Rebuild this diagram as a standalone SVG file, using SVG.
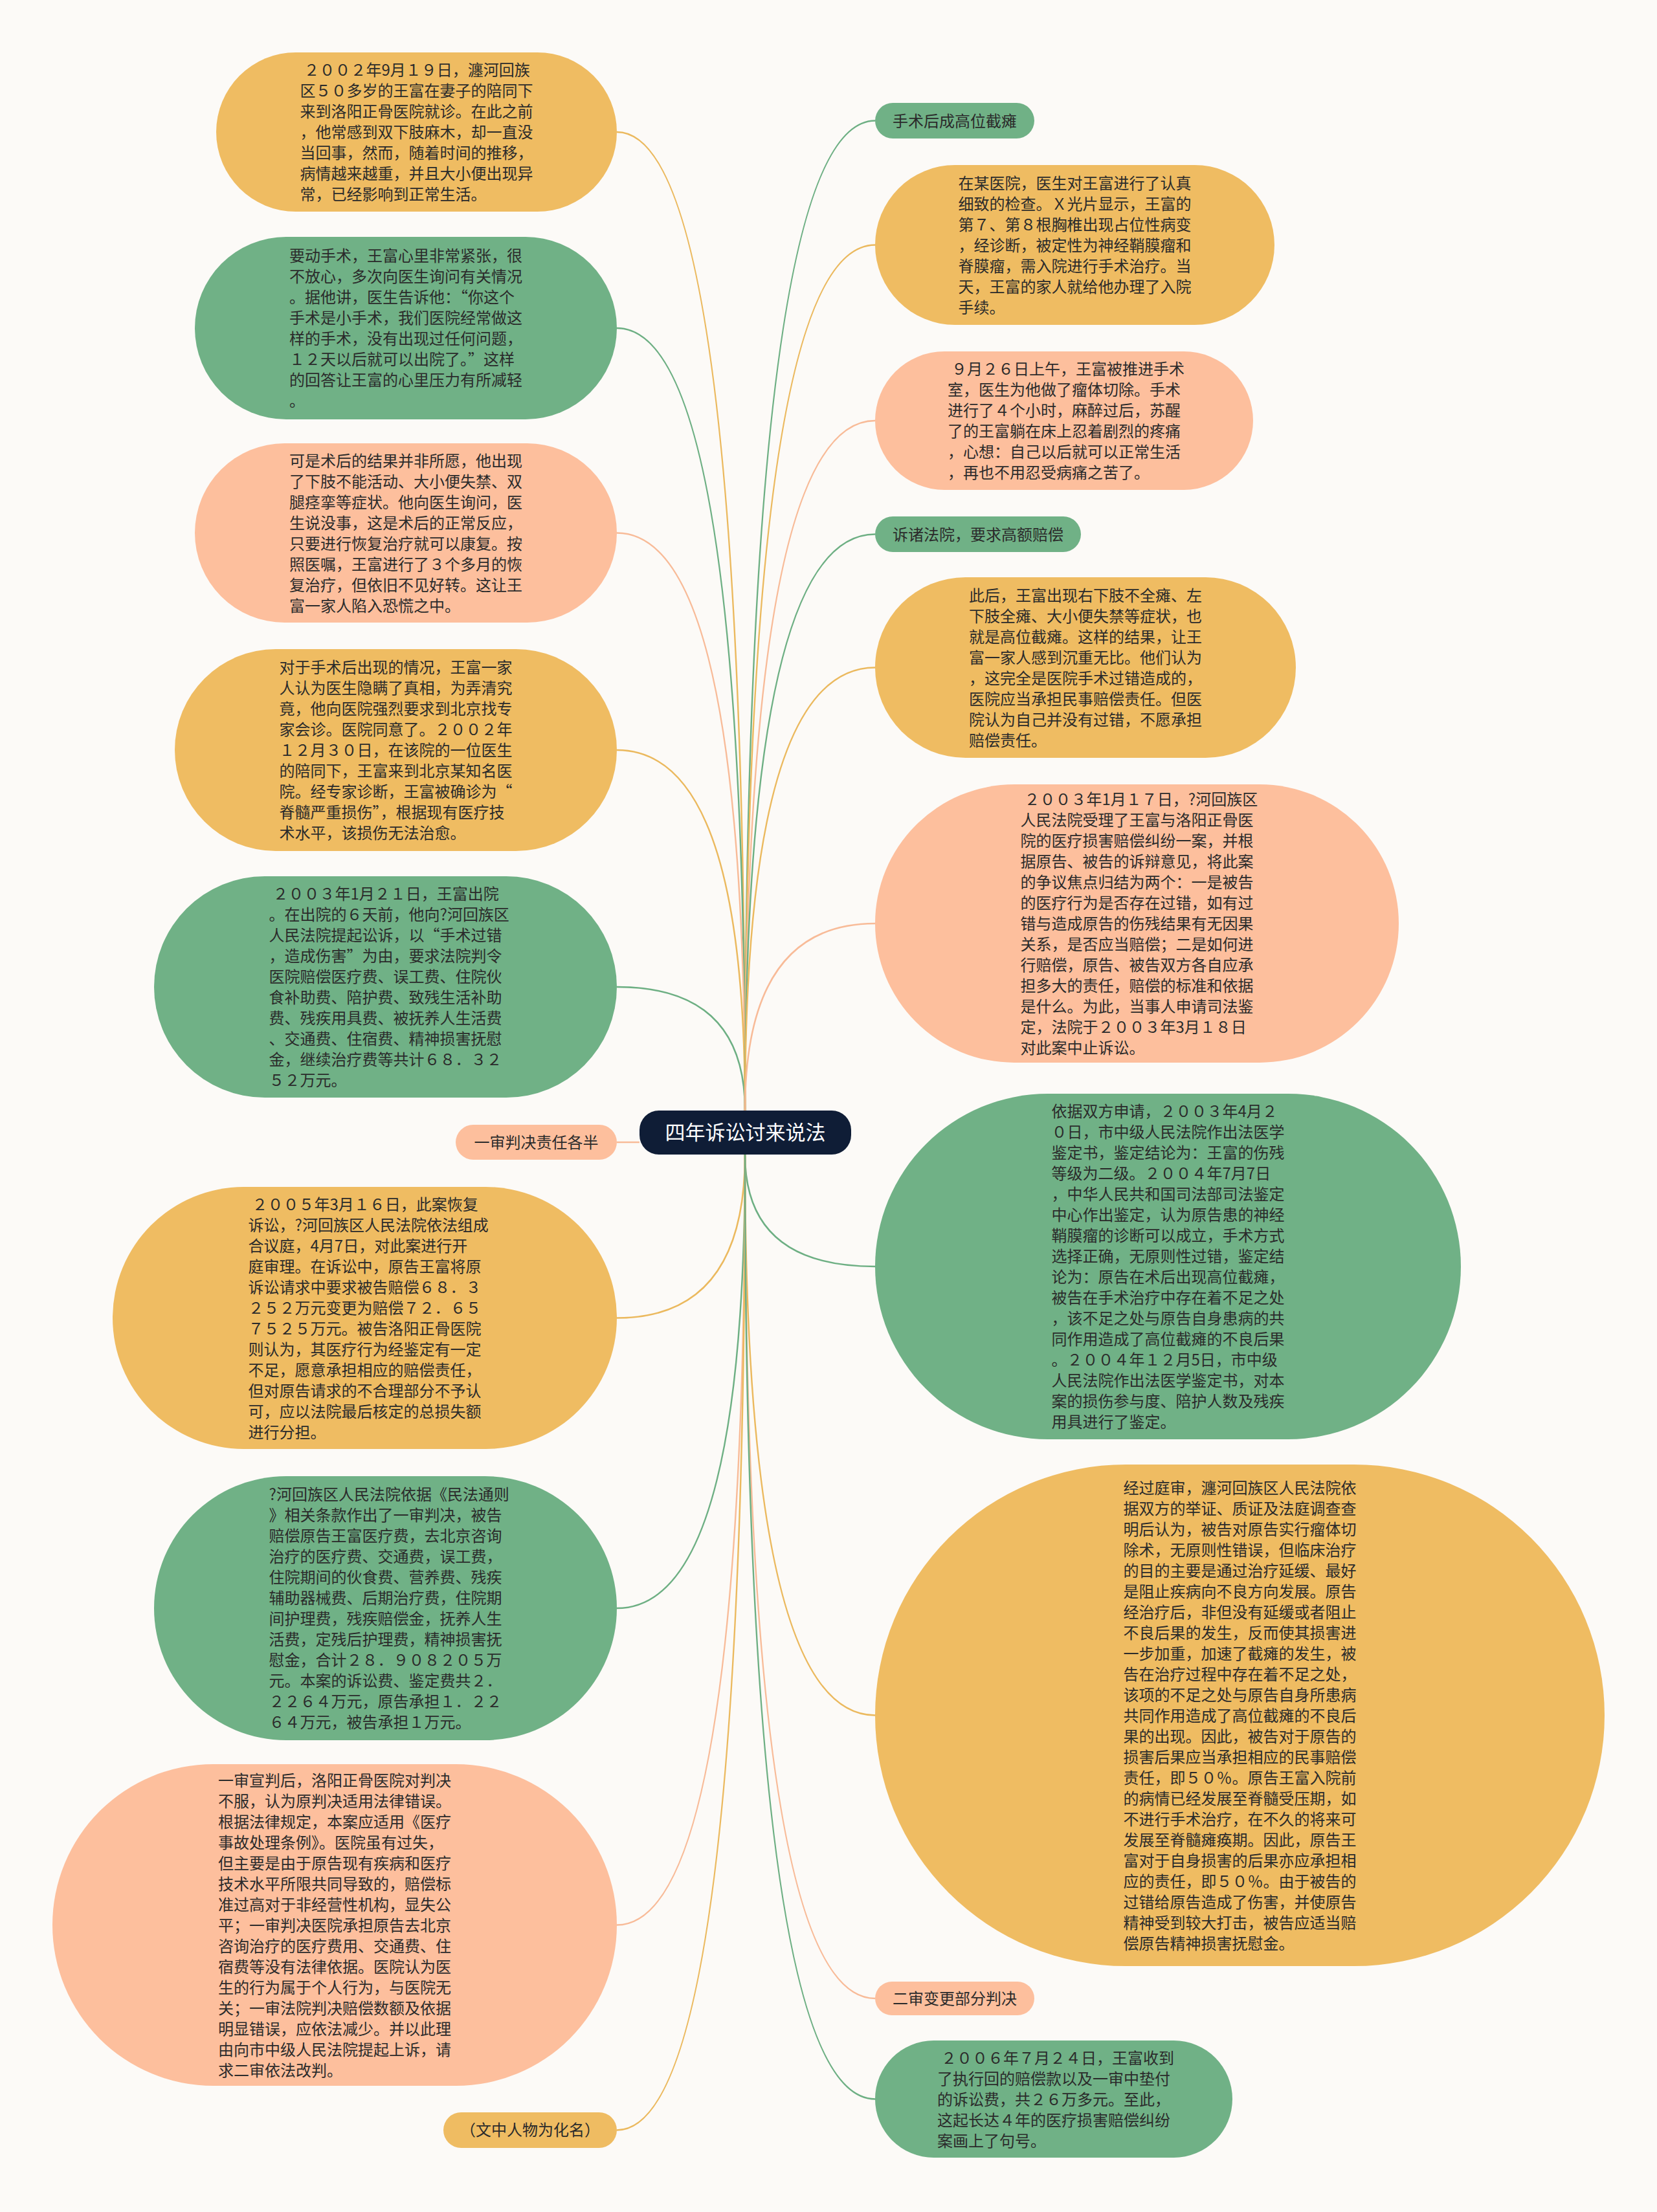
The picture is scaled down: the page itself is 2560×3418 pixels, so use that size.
<svg xmlns="http://www.w3.org/2000/svg" width="2560" height="3418" viewBox="0 0 2560 3418">
<style>
.bg{fill:#FCFAF7}
.y{fill:#EFBC62}
.g{fill:#70B186}
.s{fill:#FDBF9D}
.c{fill:#0F1D36}
.t{font-family:"Noto Sans CJK SC","Noto Sans",sans-serif;font-size:24px;fill:#2B2B2B}
.tl{font-family:"Noto Sans CJK SC","Noto Sans",sans-serif;font-size:24px;fill:#2B2B2B;text-anchor:middle}
.tc{font-family:"Noto Sans CJK SC","Noto Sans",sans-serif;font-size:31px;fill:#FFFFFF;text-anchor:middle}
.ln{fill:none;stroke-width:2.5}
.ly{stroke:#EBB95E}
.lg{stroke:#6DAF83}
.ls{stroke:#F8BB98}
</style>
<rect class="bg" x="0" y="0" width="2560" height="3418"/>
<g id="connectors">
<path class="ln ly" d="M1151 1716 Q1151 204 953 204"/>
<path class="ln lg" d="M1151 1716 Q1151 507 953 507"/>
<path class="ln ls" d="M1151 1716 Q1151 823.5 953 823.5"/>
<path class="ln ly" d="M1151 1716 Q1151 1159 953 1159"/>
<path class="ln lg" d="M1151 1716 Q1151 1525 953 1525"/>
<path class="ln ls" d="M988 1765 L953 1765"/>
<path class="ln ly" d="M1151 1784 Q1151 2036.5 953 2036.5"/>
<path class="ln lg" d="M1151 1784 Q1151 2485 953 2485"/>
<path class="ln ls" d="M1151 1784 Q1151 2974.5 953 2974.5"/>
<path class="ln ly" d="M1151 1784 Q1151 3291.5 953 3291.5"/>
<path class="ln lg" d="M1151 1716 Q1151 186.5 1352 186.5"/>
<path class="ln ly" d="M1151 1716 Q1151 378.5 1352 378.5"/>
<path class="ln ls" d="M1151 1716 Q1151 650 1352 650"/>
<path class="ln lg" d="M1151 1716 Q1151 825.5 1352 825.5"/>
<path class="ln ly" d="M1151 1716 Q1151 1031.5 1352 1031.5"/>
<path class="ln ls" d="M1151 1716 Q1151 1427 1352 1427"/>
<path class="ln lg" d="M1151 1784 Q1151 1957 1352 1957"/>
<path class="ln ly" d="M1151 1784 Q1151 2650.5 1352 2650.5"/>
<path class="ln ls" d="M1151 1784 Q1151 3088 1352 3088"/>
<path class="ln lg" d="M1151 1784 Q1151 3243.5 1352 3243.5"/>
</g>
<g id="center">
<rect class="c" x="988" y="1716" width="327" height="68" rx="30"/>
<text class="tc" x="1151.5" y="1761">四年诉讼讨来说法</text>
</g>
<g id="n-l1">
<rect class="y" x="334" y="81" width="619" height="246" rx="123"/>
<text class="t" x="463.5" y="117"><tspan x="469.5">２００２年9月１９日，瀍河回族</tspan><tspan x="463.5" dy="32">区５０多岁的王富在妻子的陪同下</tspan><tspan x="463.5" dy="32">来到洛阳正骨医院就诊。在此之前</tspan><tspan x="463.5" dy="32">，他常感到双下肢麻木，却一直没</tspan><tspan x="463.5" dy="32">当回事，然而，随着时间的推移，</tspan><tspan x="463.5" dy="32">病情越来越重，并且大小便出现异</tspan><tspan x="463.5" dy="32">常，已经影响到正常生活。</tspan></text>
</g>
<g id="n-l2">
<rect class="g" x="301" y="366" width="652" height="282" rx="141"/>
<text class="t" x="447" y="404"><tspan x="447">要动手术，王富心里非常紧张，很</tspan><tspan x="447" dy="32">不放心，多次向医生询问有关情况</tspan><tspan x="447" dy="32">。据他讲，医生告诉他：“你这个</tspan><tspan x="447" dy="32">手术是小手术，我们医院经常做这</tspan><tspan x="447" dy="32">样的手术，没有出现过任何问题，</tspan><tspan x="447" dy="32">１２天以后就可以出院了。”这样</tspan><tspan x="447" dy="32">的回答让王富的心里压力有所减轻</tspan><tspan x="447" dy="32">。</tspan></text>
</g>
<g id="n-l3">
<rect class="s" x="301" y="685" width="652" height="277" rx="138.5"/>
<text class="t" x="447" y="720.5"><tspan x="447">可是术后的结果并非所愿，他出现</tspan><tspan x="447" dy="32">了下肢不能活动、大小便失禁、双</tspan><tspan x="447" dy="32">腿痉挛等症状。他向医生询问，医</tspan><tspan x="447" dy="32">生说没事，这是术后的正常反应，</tspan><tspan x="447" dy="32">只要进行恢复治疗就可以康复。按</tspan><tspan x="447" dy="32">照医嘱，王富进行了３个多月的恢</tspan><tspan x="447" dy="32">复治疗，但依旧不见好转。这让王</tspan><tspan x="447" dy="32">富一家人陷入恐慌之中。</tspan></text>
</g>
<g id="n-l4">
<rect class="y" x="270" y="1003" width="683" height="312" rx="156"/>
<text class="t" x="431.5" y="1040"><tspan x="431.5">对于手术后出现的情况，王富一家</tspan><tspan x="431.5" dy="32">人认为医生隐瞒了真相，为弄清究</tspan><tspan x="431.5" dy="32">竟，他向医院强烈要求到北京找专</tspan><tspan x="431.5" dy="32">家会诊。医院同意了。２００２年</tspan><tspan x="431.5" dy="32">１２月３０日，在该院的一位医生</tspan><tspan x="431.5" dy="32">的陪同下，王富来到北京某知名医</tspan><tspan x="431.5" dy="32">院。经专家诊断，王富被确诊为“</tspan><tspan x="431.5" dy="32">脊髓严重损伤”，根据现有医疗技</tspan><tspan x="431.5" dy="32">术水平，该损伤无法治愈。</tspan></text>
</g>
<g id="n-l5">
<rect class="g" x="238" y="1354" width="715" height="342" rx="171"/>
<text class="t" x="415.5" y="1390"><tspan x="421.5">２００３年1月２１日，王富出院</tspan><tspan x="415.5" dy="32">。在出院的６天前，他向?河回族区</tspan><tspan x="415.5" dy="32">人民法院提起讼诉，以“手术过错</tspan><tspan x="415.5" dy="32">，造成伤害”为由，要求法院判令</tspan><tspan x="415.5" dy="32">医院赔偿医疗费、误工费、住院伙</tspan><tspan x="415.5" dy="32">食补助费、陪护费、致残生活补助</tspan><tspan x="415.5" dy="32">费、残疾用具费、被抚养人生活费</tspan><tspan x="415.5" dy="32">、交通费、住宿费、精神损害抚慰</tspan><tspan x="415.5" dy="32">金，继续治疗费等共计６８．３２</tspan><tspan x="415.5" dy="32">５２万元。</tspan></text>
</g>
<g id="n-yishen">
<rect class="s" x="704" y="1738" width="249" height="54" rx="27"/>
<text class="tl" x="828.5" y="1774">一审判决责任各半</text>
</g>
<g id="n-l6">
<rect class="y" x="174" y="1834" width="779" height="405" rx="202.5"/>
<text class="t" x="383.5" y="1869.5"><tspan x="389.5">２００５年3月１６日，此案恢复</tspan><tspan x="383.5" dy="32">诉讼，?河回族区人民法院依法组成</tspan><tspan x="383.5" dy="32">合议庭，4月7日，对此案进行开</tspan><tspan x="383.5" dy="32">庭审理。在诉讼中，原告王富将原</tspan><tspan x="383.5" dy="32">诉讼请求中要求被告赔偿６８．３</tspan><tspan x="383.5" dy="32">２５２万元变更为赔偿７２．６５</tspan><tspan x="383.5" dy="32">７５２５万元。被告洛阳正骨医院</tspan><tspan x="383.5" dy="32">则认为，其医疗行为经鉴定有一定</tspan><tspan x="383.5" dy="32">不足，愿意承担相应的赔偿责任，</tspan><tspan x="383.5" dy="32">但对原告请求的不合理部分不予认</tspan><tspan x="383.5" dy="32">可，应以法院最后核定的总损失额</tspan><tspan x="383.5" dy="32">进行分担。</tspan></text>
</g>
<g id="n-l7">
<rect class="g" x="238" y="2281" width="715" height="408" rx="204"/>
<text class="t" x="415.5" y="2318"><tspan x="415.5">?河回族区人民法院依据《民法通则</tspan><tspan x="415.5" dy="32">》相关条款作出了一审判决，被告</tspan><tspan x="415.5" dy="32">赔偿原告王富医疗费，去北京咨询</tspan><tspan x="415.5" dy="32">治疗的医疗费、交通费，误工费，</tspan><tspan x="415.5" dy="32">住院期间的伙食费、营养费、残疾</tspan><tspan x="415.5" dy="32">辅助器械费、后期治疗费，住院期</tspan><tspan x="415.5" dy="32">间护理费，残疾赔偿金，抚养人生</tspan><tspan x="415.5" dy="32">活费，定残后护理费，精神损害抚</tspan><tspan x="415.5" dy="32">慰金，合计２８．９０８２０５万</tspan><tspan x="415.5" dy="32">元。本案的诉讼费、鉴定费共２．</tspan><tspan x="415.5" dy="32">２２６４万元，原告承担１．２２</tspan><tspan x="415.5" dy="32">６４万元，被告承担１万元。</tspan></text>
</g>
<g id="n-l8">
<rect class="s" x="81" y="2726" width="872" height="497" rx="248.5"/>
<text class="t" x="337" y="2759.5"><tspan x="337">一审宣判后，洛阳正骨医院对判决</tspan><tspan x="337" dy="32">不服，认为原判决适用法律错误。</tspan><tspan x="337" dy="32">根据法律规定，本案应适用《医疗</tspan><tspan x="337" dy="32">事故处理条例》。医院虽有过失，</tspan><tspan x="337" dy="32">但主要是由于原告现有疾病和医疗</tspan><tspan x="337" dy="32">技术水平所限共同导致的，赔偿标</tspan><tspan x="337" dy="32">准过高对于非经营性机构，显失公</tspan><tspan x="337" dy="32">平；一审判决医院承担原告去北京</tspan><tspan x="337" dy="32">咨询治疗的医疗费用、交通费、住</tspan><tspan x="337" dy="32">宿费等没有法律依据。医院认为医</tspan><tspan x="337" dy="32">生的行为属于个人行为，与医院无</tspan><tspan x="337" dy="32">关；一审法院判决赔偿数额及依据</tspan><tspan x="337" dy="32">明显错误，应依法减少。并以此理</tspan><tspan x="337" dy="32">由向市中级人民法院提起上诉，请</tspan><tspan x="337" dy="32">求二审依法改判。</tspan></text>
</g>
<g id="n-note">
<rect class="y" x="685" y="3264" width="268" height="55" rx="27.5"/>
<text class="tl" x="819" y="3300">（文中人物为化名）</text>
</g>
<g id="n-shoushu">
<rect class="g" x="1352" y="159" width="246" height="55" rx="27.5"/>
<text class="tl" x="1475" y="195.5">手术后成高位截瘫</text>
</g>
<g id="n-r1">
<rect class="y" x="1352" y="255" width="617" height="247" rx="123.5"/>
<text class="t" x="1480.5" y="291.5"><tspan x="1480.5">在某医院，医生对王富进行了认真</tspan><tspan x="1480.5" dy="32">细致的检查。Ｘ光片显示，王富的</tspan><tspan x="1480.5" dy="32">第７、第８根胸椎出现占位性病变</tspan><tspan x="1480.5" dy="32">，经诊断，被定性为神经鞘膜瘤和</tspan><tspan x="1480.5" dy="32">脊膜瘤，需入院进行手术治疗。当</tspan><tspan x="1480.5" dy="32">天，王富的家人就给他办理了入院</tspan><tspan x="1480.5" dy="32">手续。</tspan></text>
</g>
<g id="n-r2">
<rect class="s" x="1352" y="543" width="584" height="214" rx="107"/>
<text class="t" x="1464" y="579"><tspan x="1470">９月２６日上午，王富被推进手术</tspan><tspan x="1464" dy="32">室，医生为他做了瘤体切除。手术</tspan><tspan x="1464" dy="32">进行了４个小时，麻醉过后，苏醒</tspan><tspan x="1464" dy="32">了的王富躺在床上忍着剧烈的疼痛</tspan><tspan x="1464" dy="32">，心想：自己以后就可以正常生活</tspan><tspan x="1464" dy="32">，再也不用忍受病痛之苦了。</tspan></text>
</g>
<g id="n-suzhu">
<rect class="g" x="1352" y="798" width="318" height="55" rx="27.5"/>
<text class="tl" x="1511" y="834.5">诉诸法院，要求高额赔偿</text>
</g>
<g id="n-r3">
<rect class="y" x="1352" y="892" width="650" height="279" rx="139.5"/>
<text class="t" x="1497" y="928.5"><tspan x="1497">此后，王富出现右下肢不全瘫、左</tspan><tspan x="1497" dy="32">下肢全瘫、大小便失禁等症状，也</tspan><tspan x="1497" dy="32">就是高位截瘫。这样的结果，让王</tspan><tspan x="1497" dy="32">富一家人感到沉重无比。他们认为</tspan><tspan x="1497" dy="32">，这完全是医院手术过错造成的，</tspan><tspan x="1497" dy="32">医院应当承担民事赔偿责任。但医</tspan><tspan x="1497" dy="32">院认为自己并没有过错，不愿承担</tspan><tspan x="1497" dy="32">赔偿责任。</tspan></text>
</g>
<g id="n-r4">
<rect class="s" x="1352" y="1212" width="809" height="430" rx="215"/>
<text class="t" x="1576.5" y="1244"><tspan x="1582.5">２００３年1月１７日，?河回族区</tspan><tspan x="1576.5" dy="32">人民法院受理了王富与洛阳正骨医</tspan><tspan x="1576.5" dy="32">院的医疗损害赔偿纠纷一案，并根</tspan><tspan x="1576.5" dy="32">据原告、被告的诉辩意见，将此案</tspan><tspan x="1576.5" dy="32">的争议焦点归结为两个：一是被告</tspan><tspan x="1576.5" dy="32">的医疗行为是否存在过错，如有过</tspan><tspan x="1576.5" dy="32">错与造成原告的伤残结果有无因果</tspan><tspan x="1576.5" dy="32">关系，是否应当赔偿；二是如何进</tspan><tspan x="1576.5" dy="32">行赔偿，原告、被告双方各自应承</tspan><tspan x="1576.5" dy="32">担多大的责任，赔偿的标准和依据</tspan><tspan x="1576.5" dy="32">是什么。为此，当事人申请司法鉴</tspan><tspan x="1576.5" dy="32">定，法院于２００３年3月１８日</tspan><tspan x="1576.5" dy="32">对此案中止诉讼。</tspan></text>
</g>
<g id="n-r5">
<rect class="g" x="1352" y="1690" width="905" height="534" rx="267"/>
<text class="t" x="1624.5" y="1726"><tspan x="1624.5">依据双方申请，２００３年4月２</tspan><tspan x="1624.5" dy="32">０日，市中级人民法院作出法医学</tspan><tspan x="1624.5" dy="32">鉴定书，鉴定结论为：王富的伤残</tspan><tspan x="1624.5" dy="32">等级为二级。２００４年7月7日</tspan><tspan x="1624.5" dy="32">，中华人民共和国司法部司法鉴定</tspan><tspan x="1624.5" dy="32">中心作出鉴定，认为原告患的神经</tspan><tspan x="1624.5" dy="32">鞘膜瘤的诊断可以成立，手术方式</tspan><tspan x="1624.5" dy="32">选择正确，无原则性过错，鉴定结</tspan><tspan x="1624.5" dy="32">论为：原告在术后出现高位截瘫，</tspan><tspan x="1624.5" dy="32">被告在手术治疗中存在着不足之处</tspan><tspan x="1624.5" dy="32">，该不足之处与原告自身患病的共</tspan><tspan x="1624.5" dy="32">同作用造成了高位截瘫的不良后果</tspan><tspan x="1624.5" dy="32">。２００４年１２月5日，市中级</tspan><tspan x="1624.5" dy="32">人民法院作出法医学鉴定书，对本</tspan><tspan x="1624.5" dy="32">案的损伤参与度、陪护人数及残疾</tspan><tspan x="1624.5" dy="32">用具进行了鉴定。</tspan></text>
</g>
<g id="n-r6">
<rect class="y" x="1352" y="2263" width="1127" height="775" rx="387.5"/>
<text class="t" x="1735.5" y="2307.5"><tspan x="1735.5">经过庭审，瀍河回族区人民法院依</tspan><tspan x="1735.5" dy="32">据双方的举证、质证及法庭调查查</tspan><tspan x="1735.5" dy="32">明后认为，被告对原告实行瘤体切</tspan><tspan x="1735.5" dy="32">除术，无原则性错误，但临床治疗</tspan><tspan x="1735.5" dy="32">的目的主要是通过治疗延缓、最好</tspan><tspan x="1735.5" dy="32">是阻止疾病向不良方向发展。原告</tspan><tspan x="1735.5" dy="32">经治疗后，非但没有延缓或者阻止</tspan><tspan x="1735.5" dy="32">不良后果的发生，反而使其损害进</tspan><tspan x="1735.5" dy="32">一步加重，加速了截瘫的发生，被</tspan><tspan x="1735.5" dy="32">告在治疗过程中存在着不足之处，</tspan><tspan x="1735.5" dy="32">该项的不足之处与原告自身所患病</tspan><tspan x="1735.5" dy="32">共同作用造成了高位截瘫的不良后</tspan><tspan x="1735.5" dy="32">果的出现。因此，被告对于原告的</tspan><tspan x="1735.5" dy="32">损害后果应当承担相应的民事赔偿</tspan><tspan x="1735.5" dy="32">责任，即５０％。原告王富入院前</tspan><tspan x="1735.5" dy="32">的病情已经发展至脊髓受压期，如</tspan><tspan x="1735.5" dy="32">不进行手术治疗，在不久的将来可</tspan><tspan x="1735.5" dy="32">发展至脊髓瘫痪期。因此，原告王</tspan><tspan x="1735.5" dy="32">富对于自身损害的后果亦应承担相</tspan><tspan x="1735.5" dy="32">应的责任，即５０％。由于被告的</tspan><tspan x="1735.5" dy="32">过错给原告造成了伤害，并使原告</tspan><tspan x="1735.5" dy="32">精神受到较大打击，被告应适当赔</tspan><tspan x="1735.5" dy="32">偿原告精神损害抚慰金。</tspan></text>
</g>
<g id="n-ershen">
<rect class="s" x="1352" y="3062" width="246" height="52" rx="26"/>
<text class="tl" x="1475" y="3097">二审变更部分判决</text>
</g>
<g id="n-r7">
<rect class="g" x="1352" y="3153" width="552" height="181" rx="90.5"/>
<text class="t" x="1448" y="3188.5"><tspan x="1454">２００６年７月２４日，王富收到</tspan><tspan x="1448" dy="32">了执行回的赔偿款以及一审中垫付</tspan><tspan x="1448" dy="32">的诉讼费，共２６万多元。至此，</tspan><tspan x="1448" dy="32">这起长达４年的医疗损害赔偿纠纷</tspan><tspan x="1448" dy="32">案画上了句号。</tspan></text>
</g>
</svg>
